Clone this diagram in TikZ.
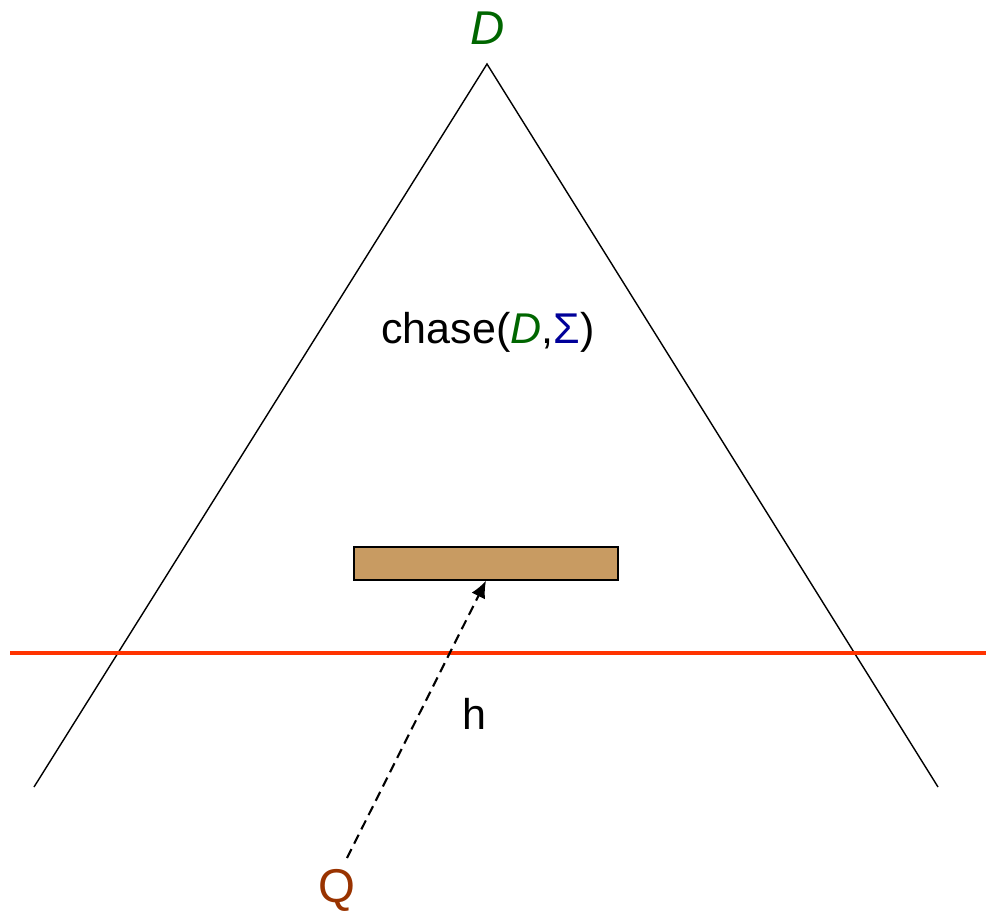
\documentclass[tikz,border=0pt]{standalone}
\usepackage{fontspec}
\setmainfont{Liberation Sans}
\usetikzlibrary{arrows.meta}
\definecolor{dgreen}{HTML}{006600}
\definecolor{dblue}{HTML}{000099}
\definecolor{qbrown}{HTML}{993300}
\definecolor{redline}{HTML}{FF3300}
\definecolor{tanbox}{HTML}{C89B62}
\begin{document}
\begin{tikzpicture}[x=0.02cm,y=-0.02cm,
  lbl/.style={font=\fontsize{24.5}{29}\selectfont, inner sep=0pt, anchor=base},
  big/.style={font=\fontsize{27}{32}\selectfont},
  side/.style={line width=0.8pt, black},
  cutline/.style={line width=2.8pt, redline},
  barbox/.style={draw=black, line width=0.8pt, fill=tanbox, inner sep=0pt, minimum width=5.28cm, minimum height=0.66cm},
  hom/.style={line width=1.2pt, dash pattern=on 0.2cm off 0.12cm, -{Latex[length=0.34cm,width=0.3cm]}}]
\useasboundingbox (0,0) rectangle (986,912);
\coordinate (apex) at (487,64);
\coordinate (bl) at (34,787);
\coordinate (br) at (938,787);
\coordinate (rl) at (10,653);
\coordinate (rr) at (986,653);
\draw[side] (bl) -- (apex) -- (br);
\draw[cutline] (rl) -- (rr);
\node[barbox] (bar) at (486,563.5) {};
\node[lbl, big, text=dgreen] (D) at (488,45) {\textit{D}};
\node[lbl] (chase) at (488,343) {chase(\textcolor{dgreen}{\textit{D}},\textcolor{dblue}{Σ})};
\node[lbl] (h) at (474,729) {h};
\node[lbl, big, text=qbrown] (Q) at (337,902) {Q};
\coordinate (qs) at (347,858);
\draw[hom] (qs) -- (bar.south);
\end{tikzpicture}
\end{document}
